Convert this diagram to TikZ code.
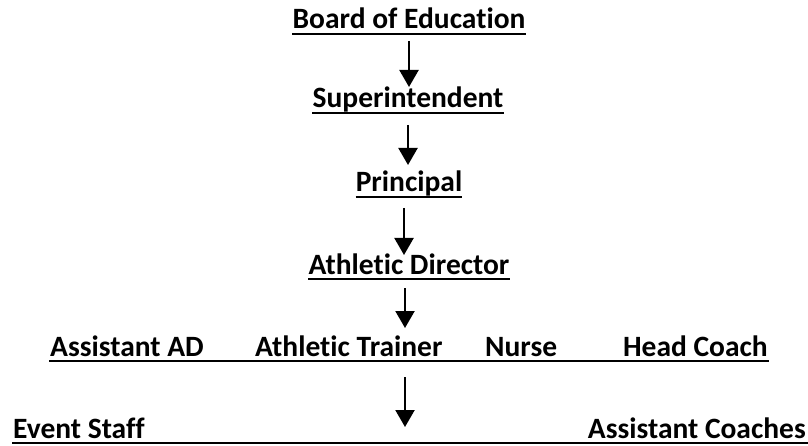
\documentclass[tikz,border=0pt]{standalone}
\usepackage{fontspec}
\setmainfont{Carlito}[Ligatures=NoCommon]
\usetikzlibrary{arrows.meta}
\begin{document}
\begin{tikzpicture}[x=1pt,y=-1pt,
  lbl/.style={inner sep=0pt, font=\fontsize{29.5}{31}\selectfont\bfseries, anchor=base},
  rowlbl/.style={lbl, anchor=base west},
  uline/.style={line width=2.5pt},
  arr/.style={line width=2.2pt, -{Triangle[width=19pt,length=17pt]}}]
\useasboundingbox (0,0) rectangle (808,446);
% chain of command, top to bottom
\node[lbl] (boe) at (409,29) {Board of Education};
\node[lbl] (sup) at (408,108) {Superintendent};
\node[lbl] (pri) at (409,192) {Principal};
\node[lbl] (ad)  at (409,274) {Athletic Director};
% staff row under the athletic director
\node[rowlbl] (aad) at (50,356) {Assistant AD};
\node[rowlbl] (at)  at (255,356) {Athletic Trainer};
\node[rowlbl] (nur) at (485,356) {Nurse};
\node[lbl, anchor=base east] (hc)  at (768,356) {Head Coach};
% bottom row
\node[rowlbl] (es) at (13,438) {Event Staff};
\node[lbl, anchor=base east] (ac) at (806,438) {Assistant Coaches};
% underlines
\foreach \n in {boe,sup,pri,ad}
  \draw[uline] ([yshift=-5pt]\n.base west) -- ([yshift=-5pt]\n.base east);
\draw[uline] ([yshift=-5pt,xshift=-1pt]aad.base west) -- ([yshift=-5pt,xshift=1pt]hc.base east);
\draw[uline] ([yshift=-5pt,xshift=-1pt]es.base west) -- ([yshift=-5pt,xshift=2pt]ac.base east);
% reporting arrows
\coordinate (rowtop) at (405,328);
\coordinate (botarr) at (405,427);
\draw[arr] ([yshift=-12pt]boe.base) -- ([xshift=1pt,yshift=21pt]sup.base);
\draw[arr] ([yshift=-17pt]sup.base) -- ([yshift=27pt,xshift=-1pt]pri.base);
\draw[arr] ([yshift=-16pt,xshift=-5pt]pri.base) -- ([yshift=19pt,xshift=-5pt]ad.base);
\draw[arr] ([yshift=-14pt,xshift=-4pt]ad.base) -- (rowtop);
\draw[arr] ([yshift=-21pt]rowtop |- at.base) -- (botarr);
\end{tikzpicture}
\end{document}
